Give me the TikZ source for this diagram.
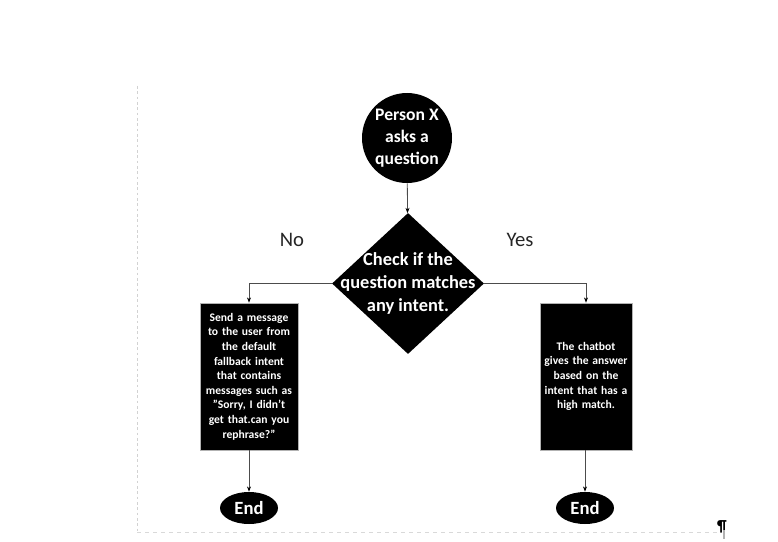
\documentclass[tikz,border=0pt]{standalone}
\usepackage{fontspec}
\setmainfont{Carlito}
\usetikzlibrary{shapes.geometric, arrows.meta}

\begin{document}
\begin{tikzpicture}[x=0.75pt, y=-0.75pt,
        flowblock/.style={fill=black, text=white, font=\bfseries, align=center, inner sep=0pt},
        flowbox/.style={flowblock, draw=gray!60, line width=0.4pt, rectangle, minimum height=110.25pt, font=\fontsize{8.7}{10.95}\selectfont\bfseries},
        flowline/.style={line width=0.6pt, color=gray!60!black, arrows={-Stealth[length=4pt, width=3pt, color=black]}},
        branch/.style={font=\fontsize{15.5}{18}\selectfont, color=black!85}]
        \useasboundingbox (0, 0) rectangle (778, 542);

        % Page margins:
        \draw[line width=0.6, color=gray!35, dash pattern=on 2pt off 2pt] (137, 86) -- (137, 532);
        \draw[line width=0.4, color=gray!30, dashed] (137, 532) -- (718, 532);
        \node[font=\fontsize{12}{14}\selectfont\bfseries] (pilcrow) at (722, 527) {¶};
        \draw[line width=1.2, color=gray!60] (724, 530) -- (724, 539);

        % Blocks:
        \node[flowblock, circle, minimum size=67.5pt, font=\fontsize{13.2}{16.5}\selectfont\bfseries] (person) at (407, 138)
            {Person X\\asks a\\question};
        \node[flowblock, diamond, minimum width=114pt, minimum height=105.75pt,
              label={[text=white, align=center, font=\fontsize{13.8}{16.9}\selectfont\bfseries]center:Check if the\\question matches\\any intent.}] (check) at (408, 283.5) {};
        \node[flowbox, minimum width=73.5pt, text width=72pt] (fallback) at (249, 376.5)
            {Send a message\\to the user from\\the default\\fallback intent\\that contains\\messages such as\\"Sorry, I didn't\\get that.can you\\rephrase?"};
        \node[flowbox, minimum width=69pt, text width=67pt] (answer) at (586, 376.5)
            {The chatbot\\gives the answer\\based on the\\intent that has a\\high match.};
        \node[flowblock, ellipse, minimum width=43.5pt, minimum height=24pt, font=\fontsize{14}{16}\selectfont\bfseries] (endNo) at (249, 508) {End};
        \node[flowblock, ellipse, minimum width=43.5pt, minimum height=24pt, font=\fontsize{14}{16}\selectfont\bfseries] (endYes) at (585, 508) {End};

        % Labels:
        \node[branch] (no) at (292, 240) {No};
        \node[branch] (yes) at (520, 240) {Yes};

        % Connectors:
        \draw[flowline] (person) -- (check);
        \draw[flowline] (check.west) -| (fallback.north);
        \draw[flowline] (check.east) -| (answer.north);
        \draw[flowline] (fallback) -- (endNo);
        \draw[flowline] (answer.south -| endYes) -- (endYes);
    \end{tikzpicture}
\end{document}
